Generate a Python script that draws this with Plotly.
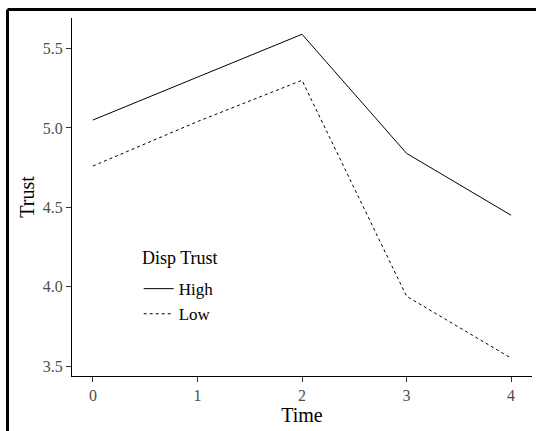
import plotly.graph_objects as go

time = [0, 1, 2, 3, 4]
high = [5.05, 5.32, 5.59, 4.84, 4.45]
low = [4.76, 5.04, 5.30, 3.94, 3.55]
y_ticks = [3.5, 4.0, 4.5, 5.0, 5.5]
y_tick_labels = ["3.5", "4.0", "4.5", "5.0", "5.5"]
x_ticks = [0, 1, 2, 3, 4]
legend_title = "Disp Trust"

FONT = "Liberation Serif"

fig = go.Figure()
fig.add_trace(go.Scatter(x=time, y=high, mode="lines", name="High",
                         line=dict(color="black", width=1, dash="solid")))
fig.add_trace(go.Scatter(x=time, y=low, mode="lines", name="Low",
                         line=dict(color="black", width=1, dash="dot")))

fig.update_layout(
    width=536, height=431,
    margin=dict(l=72, r=4, t=18, b=55),
    paper_bgcolor="white", plot_bgcolor="white",
    font=dict(family=FONT, color="black"),
    showlegend=True,
    legend=dict(
        x=0.145, y=0.293, xanchor="left", yanchor="top",
        font=dict(size=17, family=FONT),
        bgcolor="rgba(0,0,0,0)", itemwidth=30,
    ),
    xaxis=dict(
        range=[-0.2, 4.2], tickvals=x_ticks, ticktext=[str(v) for v in x_ticks],
        showgrid=False, zeroline=False, showline=True, linecolor="black", linewidth=1,
        ticks="outside", ticklen=5, tickcolor="#333333", tickwidth=1,
        tickfont=dict(size=16, color="#4D4D4D", family=FONT),
        title=dict(text="Time", font=dict(size=20, family=FONT), standoff=4),
    ),
    yaxis=dict(
        range=[3.4375, 5.6925], tickvals=y_ticks, ticktext=y_tick_labels,
        showgrid=False, zeroline=False, showline=True, linecolor="black", linewidth=1,
        ticks="outside", ticklen=5, tickcolor="#333333", tickwidth=1,
        tickfont=dict(size=16, color="#4D4D4D", family=FONT),
        title=dict(text="Trust", font=dict(size=20, family=FONT), standoff=2),
    ),
)

# legend title as a separate text so its gap to the keys matches
fig.add_annotation(text=legend_title, xref="paper", yref="paper",
                   x=0.148, y=0.329, xanchor="left", yanchor="middle",
                   showarrow=False, font=dict(size=18, family=FONT, color="black"))

# frame border visible at top and left of the picture
fig.add_shape(type="line", xref="paper", yref="paper",
              x0=-0.1402, x1=1.01, y0=1.0237, y1=1.0237,
              line=dict(color="black", width=3))
fig.add_shape(type="line", xref="paper", yref="paper",
              x0=-0.1402, x1=-0.1402, y0=1.0237, y1=-0.16,
              line=dict(color="black", width=3))

fig.write_html("out.html", config={"displayModeBar": False},
               post_script="document.body.style.margin='0';")
